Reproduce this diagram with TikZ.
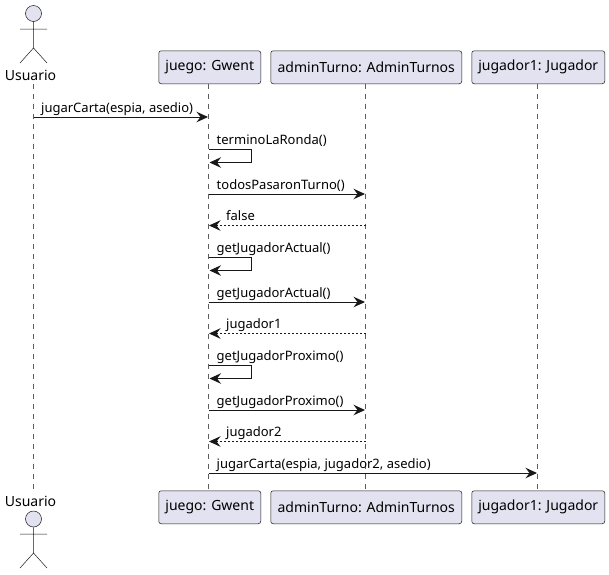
\documentclass[tikz,border=0pt]{standalone}
\usepackage{fontspec}
\setmainfont{Noto Sans}
\usetikzlibrary{arrows.meta}
\definecolor{pfill}{HTML}{E2E2F0}
\definecolor{pline}{HTML}{181818}
\tikzset{
  part/.style={draw=pline,line width=0.5pt,fill=pfill,rounded corners=2.5pt,minimum height=33pt,inner sep=0pt,anchor=north west,font=\fontsize{14}{16}\selectfont,text=black},
  life/.style={draw=pline!70,line width=0.5pt,dash pattern=on 5pt off 5pt},
  msg/.style={draw=pline,line width=1pt,-{Stealth[length=11.5pt,width=10.5pt,inset=4pt,fill=pline]}},
  ret/.style={msg,dash pattern=on 2pt off 2pt},
  lab/.style={anchor=base west,inner sep=0pt,font=\fontsize{13}{15}\selectfont,text=black},
  actorname/.style={inner sep=0pt,font=\fontsize{14}{16}\selectfont,text=black,anchor=base},
  head/.style={circle,draw=pline,line width=0.5pt,fill=pfill,minimum size=16pt,inner sep=0pt},
  stick/.style={draw=pline,line width=0.5pt}
}
\begin{document}
\begin{tikzpicture}[x=1pt,y=-1pt]
\useasboundingbox (0,0) rectangle (609,574);
% participants
\node[part,minimum width=102pt] (jT) at (158.5,50.5) {juego: Gwent};
\node[part,minimum width=191pt] (aT) at (270.5,50.5) {adminTurno: AdminTurnos};
\node[part,minimum width=133pt] (pT) at (471.5,50.5) {jugador1: Jugador};
\node[part,minimum width=102pt] (jB) at (158.5,490.5) {juego: Gwent};
\node[part,minimum width=191pt] (aB) at (270.5,490.5) {adminTurno: AdminTurnos};
\node[part,minimum width=133pt] (pB) at (471.5,490.5) {jugador1: Jugador};
% actors
\node[actorname] (uT) at (30.5,80) {Usuario};
\node[actorname] (uB) at (30.5,506) {Usuario};
\node[head] (hT) at (33.5,13.5) {};
\node[head] (hB) at (33.5,519) {};
\coordinate (aTl) at (20,29); \coordinate (aTr) at (47,29);
\coordinate (hipT) at (33.5,48); \coordinate (lTl) at (20,63); \coordinate (lTr) at (47,63);
\coordinate (aBl) at (20,534); \coordinate (aBr) at (47,534);
\coordinate (hipB) at (33.5,553); \coordinate (lBl) at (20,568); \coordinate (lBr) at (47,568);
\draw[stick] (hT.south) -- (hipT) (aTl) -- (aTr) (lTl) -- (hipT) -- (lTr);
\draw[stick] (hB.south) -- (hipB) (aBl) -- (aBr) (lBl) -- (hipB) -- (lBr);
% lifelines
\coordinate (uTop) at (33.5,84); \coordinate (uBot) at (33.5,490);
\coordinate (jTop) at (208.5,83.5); \coordinate (jBot) at (208.5,490.5);
\coordinate (aTop) at (365.5,83.5); \coordinate (aBot) at (365.5,490.5);
\coordinate (pTop) at (537.5,83.5); \coordinate (pBot) at (537.5,490.5);
\draw[life] (uTop) -- (uBot);
\draw[life] (jTop) -- (jBot);
\draw[life] (aTop) -- (aBot);
\draw[life] (pTop) -- (pBot);
% messages
\coordinate (m1a) at (33.5,117); \coordinate (m1b) at (208,117);
\draw[msg] (m1a) -- (m1b);
\node[lab] (t1) at (41,112) {jugarCarta(espia, asedio)};
\coordinate (m2a) at (209,149); \coordinate (m2c) at (251.5,149); \coordinate (m2d) at (251.5,162.5); \coordinate (m2b) at (209.5,162.5);
\draw[msg] (m2a) -- (m2c) -- (m2d) -- (m2b);
\node[lab] (t2) at (216.5,144) {terminoLaRonda()};
\coordinate (m3a) at (208.5,194); \coordinate (m3b) at (365,194);
\draw[msg] (m3a) -- (m3b);
\node[lab] (t3) at (216.5,189) {todosPasaronTurno()};
\coordinate (m4a) at (365.5,225.5); \coordinate (m4b) at (209,225.5);
\draw[ret] (m4a) -- (m4b);
\node[lab] (t4) at (226,220) {false};
\coordinate (m5a) at (209,257); \coordinate (m5c) at (251.5,257); \coordinate (m5d) at (251.5,270.5); \coordinate (m5b) at (209.5,270.5);
\draw[msg] (m5a) -- (m5c) -- (m5d) -- (m5b);
\node[lab] (t5) at (216.5,252) {getJugadorActual()};
\coordinate (m6a) at (208.5,302); \coordinate (m6b) at (365,302);
\draw[msg] (m6a) -- (m6b);
\node[lab] (t6) at (216.5,297) {getJugadorActual()};
\coordinate (m7a) at (365.5,333.5); \coordinate (m7b) at (209,333.5);
\draw[ret] (m7a) -- (m7b);
\node[lab] (t7) at (226,328) {jugador1};
\coordinate (m8a) at (209,365); \coordinate (m8c) at (251.5,365); \coordinate (m8d) at (251.5,378.5); \coordinate (m8b) at (209.5,378.5);
\draw[msg] (m8a) -- (m8c) -- (m8d) -- (m8b);
\node[lab] (t8) at (216.5,360) {getJugadorProximo()};
\coordinate (m9a) at (208.5,410); \coordinate (m9b) at (365,410);
\draw[msg] (m9a) -- (m9b);
\node[lab] (t9) at (216.5,405) {getJugadorProximo()};
\coordinate (m10a) at (365.5,441.5); \coordinate (m10b) at (209,441.5);
\draw[ret] (m10a) -- (m10b);
\node[lab] (t10) at (226,436) {jugador2};
\coordinate (m11a) at (208.5,473); \coordinate (m11b) at (537,473);
\draw[msg] (m11a) -- (m11b);
\node[lab] (t11) at (216.5,468) {jugarCarta(espia, jugador2, asedio)};
\end{tikzpicture}
\end{document}
